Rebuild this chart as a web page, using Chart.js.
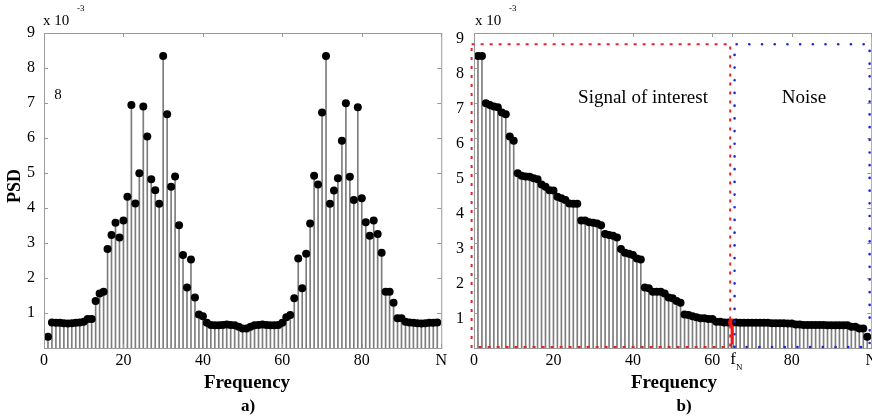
<!DOCTYPE html>
<html>
<head>
<meta charset="utf-8">
<script src="https://cdn.jsdelivr.net/npm/chart.js@4.4.0/dist/chart.umd.min.js"></script>
<style>
  html, body { margin: 0; padding: 0; background: #fff; overflow: hidden; width: 872px; height: 419px; }
  #wrap { position: relative; width: 872px; height: 419px; }
  canvas { position: absolute; top: 0; }
  #chartA { left: 0; }
  #chartB { left: 430px; }
</style>
</head>
<body>
<div id="wrap">
  <canvas id="chartB" width="450" height="419"></canvas>
  <canvas id="chartA" width="450" height="419"></canvas>
</div>
<script>
// PSD values (x 10^-3), bins 1..99
var psdA = [
  0.32, 0.73, 0.72, 0.72, 0.71, 0.70, 0.71, 0.72, 0.73, 0.75,
  0.83, 0.83, 1.34, 1.56, 1.61, 2.83, 3.23, 3.58, 3.16, 3.64,
  4.32, 6.94, 4.13, 4.99, 6.90, 6.04, 4.82, 4.51, 4.12, 8.34,
  6.68, 4.61, 4.90, 3.51, 2.66, 1.73, 2.53, 1.44, 0.96, 0.91,
  0.72, 0.66, 0.65, 0.65, 0.66, 0.67, 0.66, 0.65, 0.61, 0.56,
  0.56, 0.61, 0.65, 0.66, 0.67, 0.66, 0.65, 0.65, 0.66, 0.72,
  0.88, 0.94, 1.42, 2.56, 1.71, 2.69, 3.56, 4.92, 4.67, 6.73,
  8.34, 4.12, 4.50, 4.85, 5.92, 6.99, 4.89, 4.23, 6.88, 4.28,
  3.59, 3.21, 3.64, 3.26, 2.72, 1.61, 1.61, 1.29, 0.85, 0.85,
  0.75, 0.73, 0.72, 0.71, 0.70, 0.71, 0.72, 0.72, 0.73
];

// same spectrum sorted in decreasing order
var psdB = [
  8.34, 8.34, 6.99, 6.94, 6.90, 6.88, 6.73, 6.68, 6.04, 5.92,
  4.99, 4.92, 4.90, 4.89, 4.85, 4.82, 4.67, 4.61, 4.51, 4.50,
  4.32, 4.28, 4.23, 4.13, 4.12, 4.12, 3.64, 3.64, 3.59, 3.58,
  3.56, 3.51, 3.26, 3.23, 3.21, 3.16, 2.83, 2.72, 2.69, 2.66,
  2.56, 2.53, 1.73, 1.71, 1.61, 1.61, 1.61, 1.56, 1.44, 1.42,
  1.34, 1.29, 0.96, 0.94, 0.91, 0.88, 0.85, 0.85, 0.83, 0.83,
  0.75, 0.75, 0.73, 0.73, 0.73, 0.73, 0.72, 0.72, 0.72, 0.72,
  0.72, 0.72, 0.72, 0.72, 0.71, 0.71, 0.71, 0.71, 0.70, 0.70,
  0.67, 0.67, 0.66, 0.66, 0.66, 0.66, 0.66, 0.66, 0.65, 0.65,
  0.65, 0.65, 0.65, 0.65, 0.61, 0.61, 0.56, 0.56, 0.32
];

var xTicksA = [0, 20, 40, 60, 80, 100];
var xLabelsA = ['0', '20', '40', '60', '80', 'N'];
var xTicksB = [0, 20, 40, 60, 65, 80, 100];
var xLabelsB = ['0', '20', '40', '60', '', '80', 'N'];
var yTicks = [0, 1, 2, 3, 4, 5, 6, 7, 8, 9];

var fN = 65;                     // cut-off bin
var signalRange = [-0.6, 64.5];  // red box
var noiseRange = [65.6, 99.6];   // blue box
var boxTop = 8.68;

var SERIF = '"Liberation Serif", "DejaVu Serif", serif';
var stemColor = '#7d7d7d';
var frameColor = '#9a9a9a';

function points(arr) {
  return arr.map(function (v, i) { return { x: i + 1, y: v }; });
}

// frame + inward tick marks, like the matlab axes
var framePlugin = {
  id: 'frame',
  afterDatasetsDraw: function (chart) {
    var ctx = chart.ctx, a = chart.chartArea;
    var xs = chart.scales.x, ys = chart.scales.y;
    ctx.save();
    ctx.strokeStyle = frameColor;
    ctx.lineWidth = 1;
    ctx.strokeRect(a.left + 0.5, a.top + 0.5, a.right - a.left, a.bottom - a.top);
    ctx.beginPath();
    chart.options.plugins.frame.xTicks.forEach(function (v) {
      var px = Math.round(xs.getPixelForValue(v)) + 0.5;
      ctx.moveTo(px, a.top); ctx.lineTo(px, a.top + 4);
      ctx.moveTo(px, a.bottom); ctx.lineTo(px, a.bottom - 4);
    });
    yTicks.forEach(function (v) {
      var py = Math.round(ys.getPixelForValue(v)) + 0.5;
      ctx.moveTo(a.left, py); ctx.lineTo(a.left + 4, py);
      ctx.moveTo(a.right, py); ctx.lineTo(a.right - 4, py);
    });
    ctx.stroke();
    ctx.restore();
  }
};

// dotted boxes for panel b
var boxPlugin = {
  id: 'boxes',
  afterDatasetsDraw: function (chart) {
    if (!chart.options.plugins.boxes.show) return;
    var ctx = chart.ctx, xs = chart.scales.x, ys = chart.scales.y;
    var top = ys.getPixelForValue(boxTop), bot = ys.getPixelForValue(0) - 1;
    ctx.save();
    // red signal box
    ctx.strokeStyle = '#e8202a';
    ctx.lineWidth = 2;
    ctx.setLineDash([3, 6]);
    var x0 = xs.getPixelForValue(signalRange[0]), x1 = xs.getPixelForValue(signalRange[1]);
    ctx.strokeRect(x0, top, x1 - x0, bot - top);
    // blue noise box
    ctx.strokeStyle = '#1a2bd0';
    ctx.lineWidth = 2.6;
    ctx.lineCap = 'round';
    ctx.setLineDash([0.1, 12.6]);
    var x2 = xs.getPixelForValue(noiseRange[0]), x3 = xs.getPixelForValue(noiseRange[1]);
    ctx.beginPath();
    ctx.moveTo(x2, bot); ctx.lineTo(x2, top); ctx.lineTo(x3, top); ctx.lineTo(x3, bot); ctx.lineTo(x2, bot);
    ctx.stroke();
    ctx.restore();
  }
};

// extra text: axis titles, exponent, captions
var textPlugin = {
  id: 'texts',
  afterDraw: function (chart) {
    var ctx = chart.ctx, o = chart.options.plugins.texts;
    ctx.save();
    ctx.fillStyle = '#000';
    ctx.textBaseline = 'middle';
    ctx.textAlign = 'left';
    ctx.font = '15px ' + SERIF;
    ctx.fillText('x 10', o.expX, 21);
    ctx.font = '9px ' + SERIF;
    ctx.fillText('-3', o.expX + 34, 9);
    ctx.textAlign = 'center';
    ctx.font = 'bold 19px ' + SERIF;
    ctx.fillText('Frequency', o.freqX, 383);
    ctx.font = 'bold 17px ' + SERIF;
    ctx.fillText(o.caption, o.capX, 407);
    if (o.psd) {
      ctx.save();
      ctx.translate(15, 186);
      ctx.rotate(-Math.PI / 2);
      ctx.font = 'bold 18px ' + SERIF;
      ctx.fillText('PSD', 0, 0);
      ctx.restore();
      ctx.font = '15px ' + SERIF;
      ctx.fillText('8', 58, 95);
    }
    if (o.regions) {
      var xs = chart.scales.x;
      ctx.font = '19px ' + SERIF;
      ctx.fillText('Signal of interest', 213, 98);
      ctx.fillText('Noise', 374, 98);
      var fx = xs.getPixelForValue(fN);
      ctx.font = '17px ' + SERIF;
      ctx.fillText('f', fx + 1, 360);
      ctx.font = '9px ' + SERIF;
      ctx.fillText('N', fx + 7, 368);
    }
    ctx.restore();
  }
};

function makeChart(id, data, xTicks, xLabels, extra) {
  var datasets = [
    {
      type: 'bar',
      data: points(data),
      backgroundColor: stemColor,
      borderWidth: 0,
      barThickness: 1,
      grouped: false,
      order: 3
    },
    {
      type: 'scatter',
      data: points(data),
      pointRadius: 4,
      pointBackgroundColor: data.map(function (v, i) {
        return (extra.highlight && i + 1 === fN) ? '#ff1010' : '#000';
      }),
      pointBorderWidth: 0,
      clip: false,
      order: 1
    }
  ];
  if (extra.highlight) {
    datasets.push({
      type: 'bar',
      data: [{ x: fN, y: data[fN - 1] }],
      backgroundColor: '#ff1010',
      borderWidth: 0,
      barThickness: 2.5,
      grouped: false,
      order: 2
    });
  }
  return new Chart(document.getElementById(id), {
    type: 'scatter',
    data: { datasets: datasets },
    options: {
      responsive: false,
      animation: false,
      events: [],
      layout: { padding: { top: 33, right: 7, left: 0, bottom: 0 } },
      plugins: {
        legend: { display: false },
        tooltip: { enabled: false },
        frame: { xTicks: xTicks },
        boxes: { show: !!extra.highlight },
        texts: extra.texts
      },
      scales: {
        x: {
          type: 'linear',
          min: 0, max: 100,
          offset: false,
          grid: { display: false, drawTicks: false, offset: false },
          border: { display: false },
          afterBuildTicks: function (s) { s.ticks = xTicks.map(function (v) { return { value: v }; }); },
          afterFit: function (s) { s.height = 71; },
          ticks: {
            padding: 3,
            maxRotation: 0,
            autoSkip: false,
            color: '#000',
            font: { family: SERIF, size: 16 },
            callback: function (v) { return xLabels[xTicks.indexOf(v)]; }
          }
        },
        y: {
          min: 0, max: 9,
          grid: { display: false, drawTicks: false },
          border: { display: false },
          afterBuildTicks: function (s) { s.ticks = yTicks.map(function (v) { return { value: v }; }); },
          afterFit: function (s) { s.width = 44; },
          ticks: {
            padding: extra.yPad,
            labelOffset: extra.yOff,
            color: '#000',
            font: { family: SERIF, size: 16 },
            callback: function (v) { return v === 0 ? '' : v; }
          }
        }
      }
    },
    plugins: [framePlugin, boxPlugin, textPlugin]
  });
}

makeChart('chartA', psdA, xTicksA, xLabelsA, {
  yPad: 9, yOff: 0,
  texts: { expX: 43, freqX: 247, capX: 248, caption: 'a)', psd: true }
});

makeChart('chartB', psdB, xTicksB, xLabelsB, {
  highlight: true, yPad: 10, yOff: 6,
  texts: { expX: 45, freqX: 244, capX: 254, caption: 'b)', regions: true }
});
</script>
</body>
</html>
